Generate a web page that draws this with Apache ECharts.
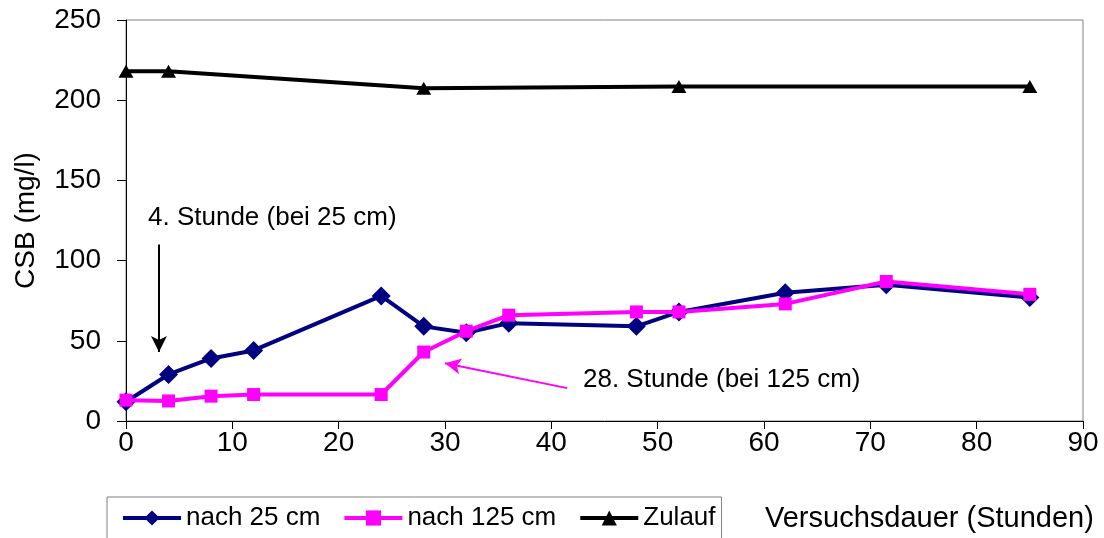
<!DOCTYPE html>
<html>
<head>
<meta charset="utf-8">
<script src="https://cdn.jsdelivr.net/npm/echarts@6/dist/echarts.min.js"></script>
<style>
  html, body { margin: 0; padding: 0; background: #fff; }
  #chart { width: 1104px; height: 538px; }
</style>
</head>
<body>
<div id="chart"></div>
<script>
// Sampling times (hours) and COD readings (mg/l)
const hoursDepth = [0, 4, 8, 12, 24, 28, 32, 36, 48, 52, 62, 71.5, 85];
const nach25cm   = [12, 29, 39, 44, 78, 59, 55, 61, 59, 68, 80, 85, 77];
const nach125cm  = [13, 12.5, 15.5, 16.5, 16.5, 43, 56, 66, 68, 68, 73, 87, 79];

const hoursInflow = [0, 4, 28, 52, 85];
const zulauf      = [218, 218, 207.5, 208.5, 208.5];

const xTicks = [0, 10, 20, 30, 40, 50, 60, 70, 80, 90];
const yTicks = [0, 50, 100, 150, 200, 250];

// Annotation arrows, in data units: [start, end]
const arrow25  = [[3.1, 110], [3.1, 43]];
const arrow125 = [[41.5, 20.5], [30, 36]];

const FONT = '"Liberation Sans", Arial, sans-serif';

const pairs = (xs, ys) => xs.map((x, i) => [x, ys[i]]);

const chart = echarts.init(document.getElementById('chart'));

chart.setOption({
  animation: false,
  backgroundColor: '#ffffff',
  textStyle: { fontFamily: FONT },
  grid: {
    left: 126, right: 21, top: 20, bottom: 117,
    show: true, borderColor: '#808080', borderWidth: 1
  },
  xAxis: {
    type: 'value',
    min: xTicks[0], max: xTicks[xTicks.length - 1], interval: 10,
    axisLine: { show: true, onZero: false, lineStyle: { color: '#000', width: 1 } },
    axisTick: { show: true, inside: false, length: 8, lineStyle: { color: '#000' } },
    splitLine: { show: false },
    axisLabel: { color: '#000', fontSize: 28, fontFamily: FONT, margin: 8 }
  },
  yAxis: {
    type: 'value',
    min: yTicks[0], max: yTicks[yTicks.length - 1], interval: 50,
    name: 'CSB (mg/l)',
    nameLocation: 'middle',
    nameGap: 86,
    nameRotate: 90,
    nameTextStyle: { color: '#000', fontSize: 28, fontFamily: FONT },
    axisLine: { show: true, onZero: false, lineStyle: { color: '#000', width: 1 } },
    axisTick: { show: true, inside: false, length: 9, lineStyle: { color: '#000' } },
    splitLine: { show: false },
    axisLabel: { color: '#000', fontSize: 28, fontFamily: FONT, margin: 25 }
  },
  legend: {
    left: 107, top: 497,
    orient: 'horizontal',
    itemWidth: 58, itemHeight: 19, itemGap: 22,
    padding: [8, 6, 12, 14],
    borderColor: '#808080', borderWidth: 1, borderRadius: 0,
    lineStyle: { width: 4 },
    textStyle: { color: '#000', fontSize: 26, fontFamily: FONT },
    data: ['nach 25 cm', 'nach 125 cm', 'Zulauf']
  },
  series: [
    {
      name: 'nach 25 cm',
      type: 'line',
      data: pairs(hoursDepth, nach25cm),
      symbol: 'diamond', symbolSize: [19, 19],
      lineStyle: { color: '#000080', width: 4 },
      itemStyle: { color: '#000080' },
      z: 3
    },
    {
      name: 'nach 125 cm',
      type: 'line',
      data: pairs(hoursDepth, nach125cm),
      symbol: 'rect', symbolSize: 13,
      lineStyle: { color: '#ff00ff', width: 4 },
      itemStyle: { color: '#ff00ff' },
      z: 4,
      markLine: {
        silent: true,
        symbol: ['none', 'arrow'],
        symbolSize: [12, 16],
        label: { show: false },
        lineStyle: { color: '#ff00ff', width: 2, type: 'solid' },
        data: [[{ coord: arrow125[0] }, { coord: arrow125[1] }]]
      }
    },
    {
      name: 'Zulauf',
      type: 'line',
      data: pairs(hoursInflow, zulauf),
      symbol: 'triangle', symbolSize: [15, 13],
      lineStyle: { color: '#000000', width: 4 },
      itemStyle: { color: '#000000' },
      z: 2,
      markLine: {
        silent: true,
        symbol: ['none', 'arrow'],
        symbolSize: [12, 16],
        label: { show: false },
        lineStyle: { color: '#000000', width: 2, type: 'solid' },
        data: [[{ coord: arrow25[0] }, { coord: arrow25[1] }]]
      }
    }
  ],
  graphic: [
    {
      type: 'text', left: 148, top: 205,
      style: { text: '4. Stunde (bei 25 cm)', fill: '#000', font: '26px ' + FONT }
    },
    {
      type: 'text', left: 583, top: 367,
      style: { text: '28. Stunde (bei 125 cm)', fill: '#000', font: '26px ' + FONT }
    },
    {
      type: 'text', left: 765, top: 504,
      style: { text: 'Versuchsdauer (Stunden)', fill: '#000', font: '29px ' + FONT }
    }
  ]
});
</script>
</body>
</html>
